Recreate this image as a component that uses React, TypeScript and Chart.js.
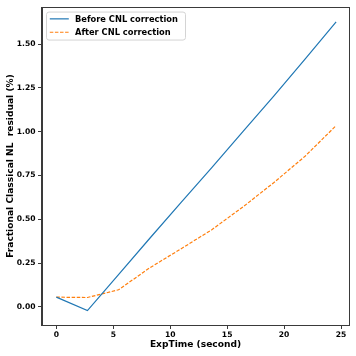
import React, { useEffect, useRef } from 'react';
import { Chart, registerables } from 'chart.js';

Chart.register(...registerables);

const expTime = [0, 2.73, 5.46, 8.19, 10.92, 13.65, 16.38, 19.11, 21.84, 24.57];
const beforeCNL = [0.055, -0.022, 0.184, 0.39, 0.594, 0.795, 1.0, 1.205, 1.415, 1.627];
const afterCNL = [0.055, 0.053, 0.097, 0.222, 0.33, 0.44, 0.57, 0.71, 0.86, 1.035];
const xTicks = [0, 5, 10, 15, 20, 25];
const yTicks = [0, 0.25, 0.5, 0.75, 1.0, 1.25, 1.5];
const seriesLabels = ['Before CNL correction', 'After CNL correction'];
const xTitle = 'ExpTime (second)';
const yTitle = 'Fractional Classical NL  residual (%)';

const FONT = '"DejaVu Sans", sans-serif';

const framePlugin = {
  id: 'frameAndLegend',
  afterDraw(chart: any) {
    const { ctx, chartArea } = chart;
    const { left, top, right, bottom } = chartArea;
    ctx.save();
    ctx.strokeStyle = '#3a3a3a';
    ctx.lineWidth = 1;
    ctx.strokeRect(Math.round(left) - 0.5, Math.round(top) + 0.5, Math.round(right - left) + 1, Math.round(bottom - top));
    // legend
    const bx = left + 4.5;
    const by = top + 5;
    const bw = 139;
    const bh = 28;
    const r = 2.5;
    ctx.beginPath();
    ctx.moveTo(bx + r, by);
    ctx.lineTo(bx + bw - r, by);
    ctx.quadraticCurveTo(bx + bw, by, bx + bw, by + r);
    ctx.lineTo(bx + bw, by + bh - r);
    ctx.quadraticCurveTo(bx + bw, by + bh, bx + bw - r, by + bh);
    ctx.lineTo(bx + r, by + bh);
    ctx.quadraticCurveTo(bx, by + bh, bx, by + bh - r);
    ctx.lineTo(bx, by + r);
    ctx.quadraticCurveTo(bx, by, bx + r, by);
    ctx.closePath();
    ctx.fillStyle = 'rgba(255,255,255,0.8)';
    ctx.fill();
    ctx.strokeStyle = '#d4d4d4';
    ctx.lineWidth = 1;
    ctx.stroke();
    chart.data.datasets.forEach((ds: any, i: number) => {
      const y = by + 6.8 + i * 13.4;
      ctx.beginPath();
      ctx.strokeStyle = ds.borderColor;
      ctx.lineWidth = ds.borderWidth;
      ctx.setLineDash(ds.borderDash || []);
      ctx.moveTo(bx + 3.3, y);
      ctx.lineTo(bx + 22.3, y);
      ctx.stroke();
      ctx.setLineDash([]);
      ctx.fillStyle = '#000';
      ctx.font = `bold 8.3px ${FONT}`;
      ctx.textAlign = 'left';
      ctx.textBaseline = 'middle';
      ctx.fillText(ds.label, bx + 28.5, y + 0.5);
    });
    ctx.restore();
  },
};

export default function App() {
  const ref = useRef<HTMLCanvasElement | null>(null);
  useEffect(() => {
    if (!ref.current) return;
    const tickFont = { family: FONT, size: 7.6, weight: 'bold' as const };
    const titleFont = { family: FONT, size: 9.1, weight: 'bold' as const };
    const chart = new Chart(ref.current, {
      type: 'line',
      data: {
        datasets: [
          {
            label: seriesLabels[0],
            data: expTime.map((x, i) => ({ x, y: beforeCNL[i] })),
            borderColor: '#1f77b4',
            borderWidth: 1.2,
            pointRadius: 0,
            tension: 0,
            fill: false,
          },
          {
            label: seriesLabels[1],
            data: expTime.map((x, i) => ({ x, y: afterCNL[i] })),
            borderColor: '#ff7f0e',
            borderWidth: 1.2,
            borderDash: [3.5, 1.6],
            pointRadius: 0,
            tension: 0,
            fill: false,
          },
        ],
      },
      options: {
        responsive: false,
        animation: false,
        layout: { padding: { top: 6, right: 7, left: 0, bottom: 0 } },
        plugins: { legend: { display: false }, tooltip: { enabled: false } },
        scales: {
          x: {
            type: 'linear',
            min: -1.26,
            max: 25.7,
            afterBuildTicks: (s: any) => {
              s.ticks = xTicks.map((v) => ({ value: v }));
            },
            afterFit: (s: any) => {
              s.height = 31;
            },
            ticks: {
              font: tickFont,
              color: '#000',
              padding: 1.5,
              maxRotation: 0,
              autoSkip: false,
              callback: (v: any) => String(v),
            },
            grid: { display: true, drawOnChartArea: false, drawTicks: true, tickLength: 4, color: '#3a3a3a' },
            border: { display: true, color: '#3a3a3a', width: 1 },
            title: { display: true, text: xTitle, font: titleFont, color: '#000', padding: { top: 0, bottom: 5.5 } },
          },
          y: {
            type: 'linear',
            min: -0.104,
            max: 1.712,
            afterBuildTicks: (s: any) => {
              s.ticks = yTicks.map((v) => ({ value: v }));
            },
            afterFit: (s: any) => {
              s.width = 42;
            },
            ticks: {
              font: tickFont,
              color: '#000',
              padding: 2.5,
              autoSkip: false,
              callback: (v: any) => Number(v).toFixed(2),
            },
            grid: { display: true, drawOnChartArea: false, drawTicks: true, tickLength: 4, color: '#3a3a3a' },
            border: { display: true, color: '#3a3a3a', width: 1 },
            title: { display: true, text: yTitle, font: titleFont, color: '#000', padding: { top: 5, bottom: 0 } },
          },
        },
      },
      plugins: [framePlugin],
    });
    return () => chart.destroy();
  }, []);
  return (
    <div style={{ position: 'absolute', left: 0, top: 0, width: 356, height: 356, background: '#fff' }}>
      <canvas ref={ref} width={356} height={356} />
    </div>
  );
}
